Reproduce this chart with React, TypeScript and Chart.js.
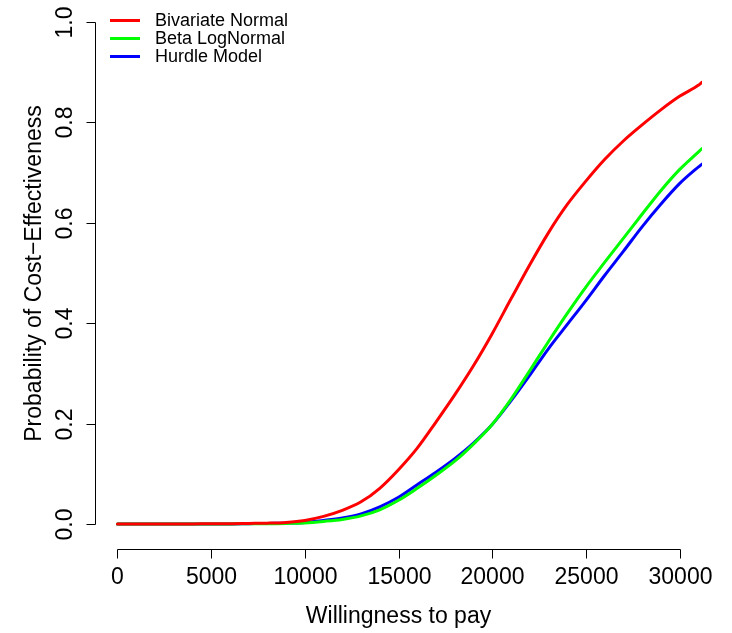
import React, { useEffect, useRef } from "react";
import { Chart, registerables } from "chart.js";

Chart.register(...registerables);

const wtp = [
  0, 1000, 2000, 3000, 4000, 5000, 6000, 7000, 8000, 9000, 10000, 11000, 12000,
  13000, 14000, 15000, 16000, 17000, 18000, 19000, 20000, 21000, 22000, 23000,
  24000, 25000, 26000, 27000, 28000, 29000, 30000, 31000, 31200,
];

const bivariateNormal = [
  0, 0, 0, 0, 0, 0.0005, 0.0005, 0.001, 0.0015, 0.003, 0.007, 0.015, 0.027,
  0.044, 0.071, 0.108, 0.151, 0.203, 0.257, 0.315, 0.379, 0.448, 0.516, 0.58,
  0.636, 0.683, 0.726, 0.763, 0.795, 0.825, 0.852, 0.874, 0.88,
];

const betaLogNormal = [
  0, 0, 0, 0, 0, 0, 0, 0.0005, 0.0005, 0.001, 0.002, 0.005, 0.009, 0.016, 0.028,
  0.047, 0.071, 0.097, 0.125, 0.159, 0.198, 0.248, 0.305, 0.363, 0.419, 0.472,
  0.521, 0.569, 0.617, 0.664, 0.706, 0.741, 0.748,
];

const hurdleModel = [
  0, 0, 0, 0, 0, 0, 0, 0.0005, 0.001, 0.0015, 0.003, 0.007, 0.012, 0.02, 0.034,
  0.053, 0.078, 0.103, 0.13, 0.161, 0.198, 0.245, 0.296, 0.349, 0.397, 0.445,
  0.495, 0.543, 0.592, 0.637, 0.678, 0.711, 0.717,
];

const seriesNames = ["Bivariate Normal", "Beta LogNormal", "Hurdle Model"];
const seriesColors = ["#ff0000", "#00ff00", "#0000ff"];

const xTicks = [0, 5000, 10000, 15000, 20000, 25000, 30000];
const yTicks = [0, 0.2, 0.4, 0.6, 0.8, 1.0];
const yTickLabels = ["0.0", "0.2", "0.4", "0.6", "0.8", "1.0"];

const xTitle = "Willingness to pay";
const yTitle = "Probability of Cost\u2212Effectiveness";

const FONT = '"Liberation Sans", Arial, Helvetica, sans-serif';

const rAxesPlugin = {
  id: "rAxes",
  afterDraw(chart: any) {
    const ctx = chart.ctx as CanvasRenderingContext2D;
    const xs = chart.scales.x;
    const ys = chart.scales.y;
    const area = chart.chartArea;
    ctx.save();
    ctx.strokeStyle = "#000";
    ctx.fillStyle = "#000";
    ctx.lineWidth = 1;

    // x axis
    const by = Math.round(area.bottom) + 0.5;
    ctx.beginPath();
    ctx.moveTo(Math.round(xs.getPixelForValue(xTicks[0])) + 0.5, by);
    ctx.lineTo(Math.round(xs.getPixelForValue(xTicks[xTicks.length - 1])) + 0.5, by);
    ctx.stroke();
    ctx.font = `23px ${FONT}`;
    ctx.textAlign = "center";
    ctx.textBaseline = "alphabetic";
    xTicks.forEach((t) => {
      const px = Math.round(xs.getPixelForValue(t)) + 0.5;
      ctx.beginPath();
      ctx.moveTo(px, by);
      ctx.lineTo(px, by + 9);
      ctx.stroke();
      ctx.fillText(String(t), px, 584);
    });
    ctx.fillText(xTitle, (area.left + area.right) / 2, 623);

    // y axis
    const lx = Math.round(area.left) + 0.5;
    ctx.beginPath();
    ctx.moveTo(lx, Math.round(ys.getPixelForValue(yTicks[0])) + 0.5);
    ctx.lineTo(lx, Math.round(ys.getPixelForValue(yTicks[yTicks.length - 1])) + 0.5);
    ctx.stroke();
    yTicks.forEach((t, i) => {
      const py = Math.round(ys.getPixelForValue(t)) + 0.5;
      ctx.beginPath();
      ctx.moveTo(lx, py);
      ctx.lineTo(lx - 9, py);
      ctx.stroke();
      ctx.save();
      ctx.translate(72, py);
      ctx.rotate(-Math.PI / 2);
      ctx.textAlign = "center";
      ctx.fillText(yTickLabels[i], 0, 0);
      ctx.restore();
    });
    ctx.save();
    ctx.translate(41, (area.top + area.bottom) / 2 - 2);
    ctx.rotate(-Math.PI / 2);
    ctx.textAlign = "center";
    ctx.fillText(yTitle, 0, 0);
    ctx.restore();

    // legend
    ctx.font = `18px ${FONT}`;
    ctx.textAlign = "left";
    ctx.textBaseline = "middle";
    ctx.lineWidth = 3;
    seriesNames.forEach((name, i) => {
      const y = 20.5 + i * 18;
      ctx.strokeStyle = seriesColors[i];
      ctx.beginPath();
      ctx.moveTo(110, y);
      ctx.lineTo(140, y);
      ctx.stroke();
      ctx.fillStyle = "#000";
      ctx.fillText(name, 155, y + 1);
    });
    ctx.restore();
  },
};

export default function App() {
  const ref = useRef<HTMLCanvasElement | null>(null);
  useEffect(() => {
    document.body.style.margin = "0";
    const canvas = ref.current;
    if (!canvas) return;
    const series = [bivariateNormal, betaLogNormal, hurdleModel];
    const chart = new Chart(canvas, {
      type: "line",
      data: {
        datasets: series.map((vals, i) => ({
          label: seriesNames[i],
          data: wtp.map((x, j) => ({ x, y: vals[j] })),
          borderColor: seriesColors[i],
          backgroundColor: seriesColors[i],
          borderWidth: 3,
          pointRadius: 0,
          fill: false,
          cubicInterpolationMode: "monotone" as const,
          borderCapStyle: "round" as const,
          borderJoinStyle: "round" as const,
        })),
      },
      options: {
        responsive: false,
        animation: false,
        devicePixelRatio: 1,
        layout: { padding: { left: 95, right: 30, top: 2, bottom: 84 } },
        plugins: {
          legend: { display: false },
          tooltip: { enabled: false },
        },
        scales: {
          x: { type: "linear", min: -1200, max: 31200, display: false },
          y: { type: "linear", min: -0.05, max: 1.04, display: false },
        },
      },
      plugins: [rAxesPlugin],
    });
    return () => chart.destroy();
  }, []);
  return (
    <div style={{ width: 732, height: 633, background: "#fff" }}>
      <canvas ref={ref} width={732} height={633} />
    </div>
  );
}
